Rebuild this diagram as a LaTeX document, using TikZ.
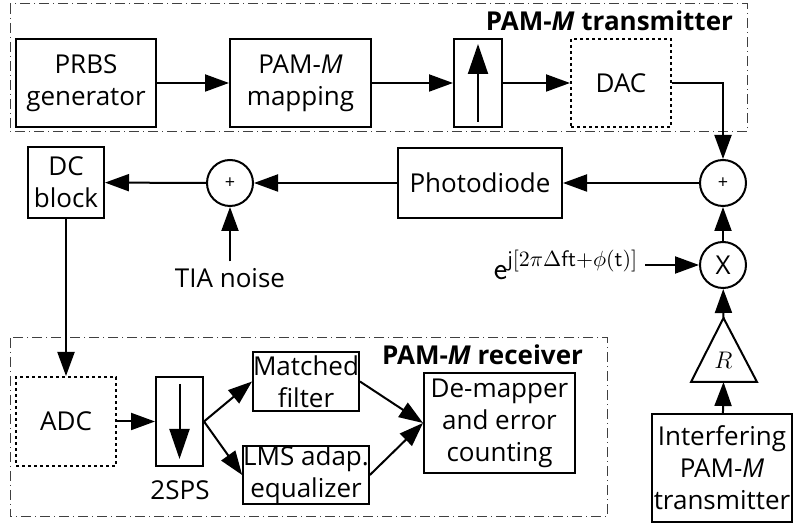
\documentclass[tikz,border=0pt]{standalone}
\usepackage{fontspec}
\setmainfont{Open Sans}
\usepackage{tikz}
\usetikzlibrary{arrows.meta,calc}
\usepackage{xcolor}

\begin{document}
\begin{tikzpicture}[x=0.5pt,y=-0.5pt,
		every node/.style={font=\fontsize{13}{16}\selectfont},
		blk/.style={draw,line width=1pt,align=center,inner sep=0pt},
		conv/.style={blk,dash pattern=on 1.5pt off 1.5pt},
		sum/.style={circle,draw,line width=1pt,minimum size=23pt,inner sep=0pt},
		frame/.style={draw=black!75,line width=0.5pt,dash pattern=on 5pt off 2pt on 0.5pt off 2pt},
		arr/.style={-{Triangle[length=12pt,width=8.5pt]},line width=1pt},
		bigarr/.style={-{Triangle[length=15pt,width=10pt]},line width=1pt}]
				\useasboundingbox (0,0) rectangle (793,523);
				
				% transmitter
				\draw[frame] (10,4) rectangle (747,132);
				\node(txtitle) at (740,4)[anchor=north east]{\textbf{PAM-\textit{M} transmitter}};
				\node(prbs) at (86,83)[blk,minimum width=70pt,minimum height=44pt]{PRBS\\generator};
				\node(map) at (300.5,83)[blk,minimum width=70.5pt,minimum height=44pt]{PAM-\textit{M}\\mapping};
				\node(up) at (478,83)[blk,minimum width=24pt,minimum height=44pt]{};
				\node(dac) at (621,83)[conv,minimum width=50pt,minimum height=44pt]{DAC};
				\draw[bigarr] ($(up.south)+(0,-6)$) to ($(up.north)+(0,6)$);
				
				% channel
				\node(sum1) at (723,183)[sum,font=\small]{+};
				\node(pd) at (480,183)[blk,minimum width=82pt,minimum height=35pt]{Photodiode};
				\node(sum2) at (230,183)[sum,font=\small]{+};
				\node(dc) at (66,182.5)[blk,minimum width=38pt,minimum height=35.5pt]{DC\\block};
				\node(tia) at (230,278){TIA noise};
				\node(mix) at (723,265)[sum,font=\fontsize{13}{15}\selectfont]{X};
				\node(ph) at (566,265)[font=\fontsize{16}{18}\selectfont]{$\mathsf{e}^{\mathsf{j}[2\pi\Delta\mathsf{ft}+\phi(\mathsf{t})]}$};
				\coordinate(amptip) at (723.5,318);
				\coordinate(ampbase) at (723.5,382);
				\draw[line width=1pt] (691,382) -- (amptip) -- (757,382) -- cycle;
				\node(amp) at (723.5,360){$R$};
				\node(intf) at (722,468)[blk,minimum width=70pt,minimum height=54pt]{Interfering\\PAM-\textit{M}\\transmitter};
				
				% receiver
				\draw[frame] (10,338) rectangle (607,517);
				\node(rxtitle) at (590,338)[anchor=north east]{\textbf{PAM-\textit{M} receiver}};
				\node(adc) at (66,421.5)[conv,minimum width=50pt,minimum height=44.5pt]{ADC};
				\node(down) at (179.5,421.5)[blk,minimum width=23.5pt,minimum height=44.5pt]{};
				\node(sps) at (180,490){2SPS};
				\draw[bigarr] ($(down.north)+(0,8)$) to ($(down.south)+(0,-8)$);
				\node(mf) at (306,381.5)[blk,minimum width=50pt,minimum height=29.5pt]{Matched\\filter};
				\node(lms) at (306,475)[blk,minimum width=56pt,minimum height=29pt]{LMS adap.\\equalizer};
				\node(dem) at (499.5,423)[blk,minimum width=75.5pt,minimum height=50pt]{De-mapper\\and error\\counting};
				
				\draw[arr] (prbs) to (map);
				\draw[arr] (map) to (up);
				\draw[arr] (up) to (dac);
				\draw[arr] (dac.east) -| (sum1.north);
				\draw[arr] (sum1) to (pd);
				\draw[arr] (pd) to (sum2);
				\draw[arr] (sum2) to (dc);
				\draw[arr] (tia) to (sum2);
				\draw[arr] (mix) to (sum1);
				\draw[arr] (ph) to (mix);
				\draw[arr] (amptip) to (mix);
				\draw[arr] (intf) to (ampbase);
				\draw[arr] (dc) to (adc);
				\draw[arr] (adc) to (down);
				\draw[arr] (down.east) to (mf.west);
				\draw[arr] (down.east) to (lms.west);
				\draw[arr] (mf.east) to (dem.west);
				\draw[arr] (lms.east) to (dem.west);
				
			\end{tikzpicture}
\end{document}
